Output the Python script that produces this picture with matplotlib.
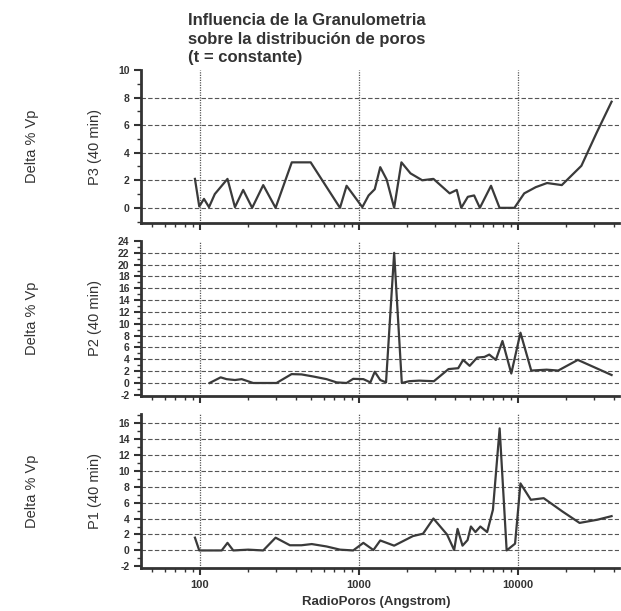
import numpy as np
import matplotlib
matplotlib.use('Agg')
import matplotlib.pyplot as plt
from matplotlib.ticker import MultipleLocator, FixedLocator, NullFormatter, LogLocator

# P3 (top panel)
x3 = [93, 99, 106, 114, 124, 149, 166, 187, 213, 250, 299, 378, 497, 760, 836, 900,
      1050, 1150, 1257, 1361, 1494, 1665, 1850, 2110, 2500, 2940, 3720, 4120, 4400,
      4840, 5300, 5760, 6770, 7660, 9500, 10950, 12940, 15240, 18870, 25060, 31250, 38800]
y3 = [2.1, 0.1, 0.65, 0.05, 1.0, 2.1, 0.05, 1.3, 0, 1.65, 0, 3.3, 3.3, 0, 1.6, 1.1,
      0.05, 0.9, 1.35, 2.95, 2.05, 0, 3.3, 2.5, 2.0, 2.1, 1.05, 1.3, 0,
      0.8, 0.9, 0, 1.6, 0, 0, 1.05, 1.5, 1.8, 1.65, 3.05, 5.45, 7.7]

# P2 (middle panel)
x2 = [115, 135, 147, 166, 183, 216, 303, 377, 435, 515, 625, 724, 836, 920, 1066,
      1180, 1257, 1361, 1480, 1665, 1860, 2070, 2390, 2960, 3660, 4210, 4520, 4970,
      5540, 6150, 6600, 7260, 7990, 9080, 10370, 12120, 15160, 17900, 23800, 38800]
y2 = [0, 0.95, 0.65, 0.5, 0.65, 0, 0, 1.5, 1.45, 1.1, 0.65, 0.1, 0, 0.7, 0.65,
      0.1, 1.9, 0.5, 0.1, 22, 0, 0.3, 0.4, 0.3, 2.35, 2.5, 3.9, 2.9,
      4.3, 4.4, 4.8, 3.9, 7.1, 1.6, 8.5, 2.1, 2.25, 2.1, 3.9, 1.35]

# P1 (bottom panel)
x1 = [93, 99, 137, 149, 162, 201, 250, 299, 368, 435, 505, 625, 760, 920, 1066,
      1233, 1361, 1665, 2185, 2530, 2940, 3580, 3970, 4170, 4480, 4820, 5060, 5400,
      5800, 6400, 6960, 7670, 8490, 9590, 10370, 12050, 14520, 18990, 24400, 31600, 38800]
y1 = [1.6, 0, 0, 0.95, 0, 0.1, 0, 1.6, 0.65, 0.65, 0.8, 0.5, 0.1, 0, 0.95,
      0.05, 1.25, 0.6, 1.8, 2.1, 4.0, 2.0, 0.05, 2.7, 0.6, 1.3, 3.0, 2.3,
      3.0, 2.3, 5.1, 15.3, 0, 0.85, 8.4, 6.35, 6.55, 4.9, 3.45, 3.85, 4.3]

panel_names = ['P3 (40 min)', 'P2 (40 min)', 'P1 (40 min)']
ylims = [(-1.1, 10), (-2.2, 24), (-2.2, 17.1)]
ytick_vals = [range(0, 11, 2), range(-2, 25, 2), range(-2, 17, 2)]
grid_vals = [range(0, 9, 2), range(0, 23, 2), range(0, 17, 2)]
x_decades = [100, 1000, 10000]

title = 'Influencia de la Granulometria\nsobre la distribución de poros\n(t = constante)'
xlabel = 'RadioPoros (Angstrom)'
ylabel = 'Delta % Vp'

plt.rcParams['font.family'] = ['Liberation Sans', 'DejaVu Sans']
plt.rcParams['axes.unicode_minus'] = False

fig = plt.figure(figsize=(6.21, 6.11), dpi=100)
W, H = 621.0, 611.0
left, right = 140.7, 619.0
tops = [70, 241, 414]
bottoms = [223, 396, 568]
txt_col = '#333333'
series = [(x3, y3), (x2, y2), (x1, y1)]

for i in range(3):
    ax = fig.add_axes([left / W, 1 - bottoms[i] / H, (right - left) / W,
                       (bottoms[i] - tops[i]) / H])
    xs, ys = series[i]
    ax.set_xscale('log')
    ax.set_xlim(42.4, 43200)
    ax.set_ylim(*ylims[i])

    # rejilla: horizontales a trazos, verticales punteadas en cada década
    for g in grid_vals[i]:
        ax.axhline(g, color='#555555', lw=0.8, dashes=(4, 2), zorder=1)
    for d in x_decades:
        ax.axvline(d, color='#555555', lw=0.9, ls=(0, (1, 1)), zorder=1)

    ax.plot(xs, ys, color='#3a3a3a', lw=1.6, zorder=3)

    for s in ['top', 'right']:
        ax.spines[s].set_visible(False)
    for s in ['left', 'bottom']:
        ax.spines[s].set_linewidth(2)
        ax.spines[s].set_color(txt_col)

    ax.yaxis.set_major_locator(FixedLocator(list(ytick_vals[i])))
    ax.yaxis.set_minor_locator(MultipleLocator(1))
    ax.tick_params(axis='y', which='major', length=5, width=1.5, color=txt_col,
                   labelsize=7.5, pad=3)
    ax.tick_params(axis='y', which='minor', length=3, width=1, color=txt_col)
    for lab in ax.get_yticklabels():
        lab.set_fontweight('bold')
        lab.set_color(txt_col)

    ax.xaxis.set_major_locator(FixedLocator(x_decades))
    ax.xaxis.set_minor_locator(LogLocator(base=10, subs=np.arange(2, 10), numticks=20))
    ax.xaxis.set_minor_formatter(NullFormatter())
    ax.tick_params(axis='x', which='major', length=5, width=1.5, color=txt_col,
                   labelsize=8, pad=4)
    ax.tick_params(axis='x', which='minor', length=3, width=1, color=txt_col)
    if i < 2:
        ax.set_xticklabels([])
    else:
        ax.set_xticklabels([str(d) for d in x_decades], fontweight='bold', color=txt_col)

    ymid = 1 - (tops[i] + bottoms[i]) / 2 / H
    fig.text(32 / W, ymid, ylabel, rotation=90, ha='center', va='center',
             fontsize=10.5, color=txt_col)
    fig.text(95 / W, ymid, panel_names[i], rotation=90, ha='center', va='center',
             fontsize=10.5, color=txt_col)

fig.text(376 / W, 1 - 602 / H, xlabel, ha='center', va='center', fontsize=9.5,
         fontweight='bold', color=txt_col)

fig.text(188 / W, 1 - 13 / H, title, ha='left', va='top', fontsize=12,
         fontweight='bold', color=txt_col, linespacing=1.3)

fig.savefig('out.png', dpi=100)
